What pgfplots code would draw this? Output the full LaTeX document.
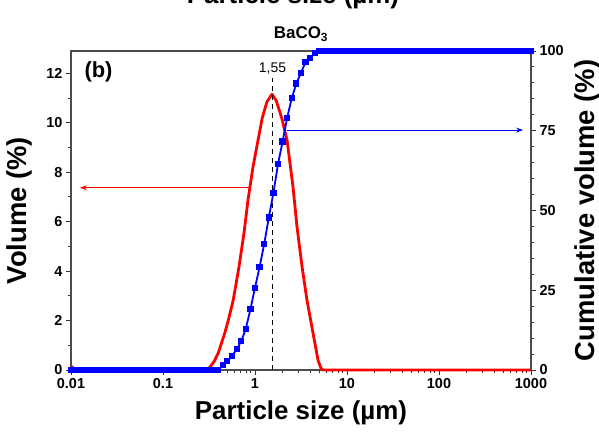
\documentclass[border=0pt]{standalone}
\usepackage{fontspec}
\setmainfont{Liberation Sans}
\usepackage{pgfplots}
\pgfplotsset{compat=1.18}
\usetikzlibrary{arrows.meta}

\begin{document}
\begin{tikzpicture}[font=\bfseries]
% left axis: volume distribution
\begin{axis}[
  scale only axis, width=460bp, height=319bp,
  at={(0,0)}, anchor=south west,
  xmode=log, xmin=0.01, xmax=1000,
  tick align=outside,
  major tick length=5bp, minor tick length=3bp,
  tick style={black!80, line width=0.9bp},
  axis line style={black!70, line width=1.1bp},
  tick label style={font=\fontsize{14.5}{16}\selectfont\bfseries},
  label style={font=\fontsize{26}{30}\selectfont\bfseries},
  /pgf/number format/assume math mode=true,
  clip=false,
  ymin=0, ymax=12.9,
  xtick={0.01,0.1,1,10,100,1000},
  xticklabels={0.01,0.1,1,10,100,1000},
  xtick pos=bottom, ytick pos=left,
  ytick={0,2,...,12}, minor ytick={1,3,...,11},
  xlabel={Particle size (µm)},
  ylabel={Volume (\%)},
  xlabel style={at={(rel axis cs:0.5,0)}, anchor=center, yshift=-43bp},
  ylabel style={at={(rel axis cs:0,0.5)}, anchor=center, yshift=52bp,
                font=\fontsize{27.5}{30}\selectfont\bfseries},
]
\addplot[red, line width=2.8bp, line join=round] coordinates {
  (0.01,0.15) (0.0115,0) (0.30,0) (0.324,0.12) (0.36,0.35) (0.40,0.7)
  (0.47,1.5) (0.52,2.1) (0.58,2.83) (0.67,4.17) (0.76,5.55) (0.84,6.88)
  (0.95,8.2) (1.08,9.3) (1.2,10.2) (1.35,10.85) (1.53,11.15) (1.7,10.9)
  (1.95,10.2) (2.23,9.3) (2.59,7.4) (2.86,5.8) (3.24,4.2) (3.67,2.83)
  (4.27,1.5) (4.84,0.4) (5.2,0.08) (5.5,0) (1000,0)
};
\draw[red, line width=1.1bp, -{Stealth[length=7bp,width=5bp]}]
  (axis cs:0.88,7.37) -- (axis cs:0.0125,7.37);
\draw[black, line width=1.1bp, dash pattern=on 5bp off 4bp]
  (axis cs:1.55,0) -- (axis cs:1.55,11.8);
\node[font=\fontsize{14}{16}\selectfont\mdseries] at (axis cs:1.55,12.2) {1,55};
\end{axis}
% right axis: cumulative volume
\begin{axis}[
  scale only axis, width=460bp, height=319bp,
  at={(0,0)}, anchor=south west,
  xmode=log, xmin=0.01, xmax=1000,
  tick align=outside,
  major tick length=5bp, minor tick length=3bp,
  tick style={black!80, line width=0.9bp},
  axis line style={black!70, line width=1.1bp},
  tick label style={font=\fontsize{14.5}{16}\selectfont\bfseries},
  label style={font=\fontsize{27.5}{30}\selectfont\bfseries},
  /pgf/number format/assume math mode=true,
  clip=false,
  axis y line*=right, axis x line=none,
  ymin=0, ymax=100,
  ytick={0,25,...,100}, minor y tick num=4,
  ylabel={Cumulative volume (\%)},
  ylabel style={at={(rel axis cs:1,0.5)}, anchor=center, yshift=-56bp},
]
\addplot[blue, line width=1.8bp, mark=square*, mark size=2.2bp] coordinates {
  (0.01,0) (0.01122,0) (0.01259,0) (0.01413,0) (0.01585,0) (0.01778,0)
  (0.01995,0) (0.02239,0) (0.02512,0) (0.02818,0) (0.03162,0) (0.03548,0)
  (0.03981,0) (0.04467,0) (0.05012,0) (0.05623,0) (0.0631,0) (0.07079,0)
  (0.07943,0) (0.08913,0)
  (0.1,0) (0.1122,0) (0.1259,0) (0.1413,0) (0.1585,0) (0.1778,0)
  (0.1995,0) (0.2239,0) (0.2512,0) (0.2818,0) (0.3162,0) (0.3548,0)
  (0.3981,0) (0.4467,1.5) (0.5012,2.8) (0.5623,4.3) (0.631,6.5) (0.7079,9.0)
  (0.7943,12.9) (0.8913,19.0)
  (1.0,25.8) (1.122,32.3) (1.259,39.5) (1.413,47.8) (1.585,55.5) (1.778,64.5)
  (1.995,71.6) (2.239,79.1) (2.512,85.3) (2.818,89.8) (3.162,93.2) (3.548,96.5)
  (3.981,97.9) (4.467,99.3) (5.012,100) (5.623,100) (6.31,100) (7.079,100)
  (7.943,100) (8.913,100)
  (10,100) (11.22,100) (12.59,100) (14.13,100) (15.85,100) (17.78,100)
  (19.95,100) (22.39,100) (25.12,100) (28.18,100) (31.62,100) (35.48,100)
  (39.81,100) (44.67,100) (50.12,100) (56.23,100) (63.1,100) (70.79,100)
  (79.43,100) (89.13,100)
  (100,100) (112.2,100) (125.9,100) (141.3,100) (158.5,100) (177.8,100)
  (199.5,100) (223.9,100) (251.2,100) (281.8,100) (316.2,100) (354.8,100)
  (398.1,100) (446.7,100) (501.2,100) (562.3,100) (631,100) (707.9,100)
  (794.3,100) (891.3,100) (1000,100)
};
\draw[blue, line width=1.1bp, -{Stealth[length=7bp,width=5bp]}]
  (axis cs:2.2,75.2) -- (axis cs:820,75.2);
\end{axis}
% panel letter and titles
\node[anchor=base west, font=\fontsize{22}{26}\selectfont\bfseries] at (10bp,292bp) {(b)};
\node[anchor=base, font=\fontsize{17}{20}\selectfont\bfseries] at (230bp,331bp) {BaCO$_{\mathbf{3}}$};
\node[anchor=base, font=\fontsize{26}{30}\selectfont\bfseries] at (222bp,366bp) {Particle size (µm)};
\pgfresetboundingbox
\useasboundingbox (-71bp,-65bp) rectangle (528bp,370bp);
\end{tikzpicture}
\end{document}
